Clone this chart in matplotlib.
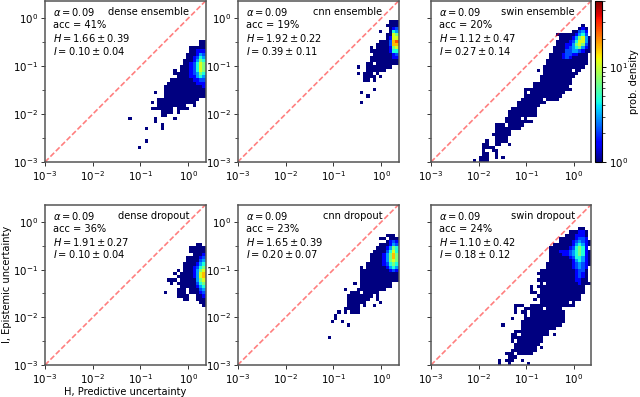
"""Uncertainty scatter density grid: predictive vs epistemic, six models."""

import matplotlib

matplotlib.use("Agg")
import matplotlib.pyplot as plt
import numpy as np
from matplotlib.colors import LogNorm

# Histogram: {row: (first column, level per column)}.
# Rows and columns are indices of the 50 log-spaced bins, "." is an empty bin.
dense_ensemble = {
    37: (48, "11"), 36: (48, "11"), 35: (45, "11111"), 34: (45, "11222"),
    33: (44, "111243"), 32: (44, "112354"), 31: (43, "1112465"), 30: (43, "1123576"),
    29: (42, "11123576"), 28: (40, "1.11123576"), 27: (40, "1111123465"),
    26: (41, "111122454"), 25: (39, "11111112233"), 24: (38, "111111111222"),
    23: (37, "1111111111112"), 22: (37, "1111111111111"), 21: (34, "1..1111111111111"),
    20: (37, "1111111111111"), 19: (35, "1111111111111"), 18: (33, "1.111111111111"),
    17: (35, "111111111..1"), 16: (33, "1111111.1111"), 15: (36, "1111.1"),
    14: (36, "11"), 13: (26, "1.......1.....1"), 12: (34, "1"), 11: (36, "1"),
    10: (31, "1....1"), 6: (31, "1"), 4: (29, "1"),
}
cnn_ensemble = {
    43: (47, "111"), 42: (46, "1111"), 41: (47, "123"), 40: (44, "1..154"),
    39: (46, "1176"), 38: (46, "1277"), 37: (44, "111389"), 36: (43, "1111388"),
    35: (41, "1.1111267"), 34: (41, "111111255"), 33: (42, "11111123"),
    32: (41, "111111122"), 31: (41, "111111111"), 30: (40, "11.1111111"),
    29: (37, "1..11111111"), 28: (40, "111111"), 27: (37, "1.111.1"), 26: (39, "1111.1"),
    25: (39, "11.1"), 22: (42, "1"), 21: (38, "1"), 20: (40, "1"), 18: (38, "1"),
}
swin_ensemble = {
    42: (47, "1"), 41: (46, "121"), 40: (44, "11342"), 39: (39, "1111112453"),
    38: (40, "1111246741"), 37: (39, "11112357741"), 36: (39, "11122467631"),
    35: (38, "111123456421"), 34: (38, "111133443211"), 33: (37, "111123322111"),
    32: (37, "111123211111"), 31: (36, "1111111111111"), 30: (36, "1111111111111"),
    29: (35, "1111111111111"), 28: (33, "1.111111111.11"), 27: (35, "11111111111"),
    26: (34, "11111111111"), 25: (34, "1111111111"), 24: (32, "111111111111"),
    23: (32, "11111111111"), 22: (29, "111111111111111"), 21: (29, "1.11111111111"),
    20: (29, "111111111111"), 19: (28, "1111111.1111"), 18: (27, "111111111"),
    17: (27, "1111111"), 16: (25, "11111111"), 15: (24, "111111111"),
    14: (24, "111111111"), 13: (23, "11111.1"), 12: (23, "111111111"),
    11: (20, "111.11111"), 10: (20, "11111111"), 9: (20, "11111"), 8: (19, "111111"),
    7: (20, "1111"), 6: (17, "1..1111"), 5: (16, "11..11..1"), 4: (16, "1111"),
    3: (16, "1..11"), 2: (16, "11..1"), 1: (15, "111..1.1"), 0: (13, "1.111"),
}
dense_dropout = {
    37: (47, "11"), 36: (45, "11111"), 35: (45, "11111"), 34: (46, "1112"),
    33: (44, "111123"), 32: (44, "111134"), 31: (43, "1111245"), 30: (43, "1112356"),
    29: (41, "1.1112467"), 28: (40, "1.11112478"), 27: (41, "111112478"),
    26: (38, "111.11111467"), 25: (39, "1.111111356"), 24: (42, "11111245"),
    23: (41, "111.11134"), 22: (37, "1...111.11123"), 21: (41, "1111..112"),
    20: (43, "11..111"), 19: (48, "11"), 18: (49, "1"),
}
cnn_dropout = {
    40: (46, "111"), 39: (44, "11.111"), 38: (46, "1232"), 37: (44, "111243"),
    36: (43, "1112465"), 35: (42, "11113575"), 34: (41, "111124686"),
    33: (41, "111124686"), 32: (41, "111124676"), 31: (40, "1111123565"),
    30: (38, "1.1111112454"), 29: (38, "111111111232"), 28: (38, "111111111111"),
    27: (38, "111111111111"), 26: (38, "111111111111"), 25: (36, "1.1111111111"),
    24: (38, "1111111111"), 23: (33, "1...111111111"), 22: (35, "111.11111"),
    21: (34, "11111111.1"), 20: (34, "1111111..1"), 19: (34, "111111....1"),
    18: (34, "1111.1..1"), 17: (33, "11111"), 16: (31, "1.1.111"), 15: (30, "1"),
    14: (30, "1"), 13: (29, "1..1"), 12: (34, "1"), 8: (28, "1"),
}
swin_dropout = {
    42: (46, "11"), 41: (43, "111221"), 40: (42, "1112221"), 39: (40, "111112332"),
    38: (40, "1111234321"), 37: (38, "111111245421"), 36: (37, "111111235652"),
    35: (37, "1112223456521"), 34: (37, "1111223456521"), 33: (37, "1111112355421"),
    32: (37, "1111111245421"), 31: (36, "11111111234321"), 30: (36, "1111111123432"),
    29: (34, "111111111112331"), 28: (33, "1111111111112321"), 27: (34, "111111111112321"),
    26: (33, "1111111111112211"), 25: (34, "1.11111111112111"), 24: (31, "1.111111111111111"),
    23: (31, "1..11111111111111"), 22: (31, "11.11111111111111"), 21: (33, "11111111111111"),
    20: (32, "1.1111111111111"), 19: (34, "111111111.1"), 18: (26, "111..11111111111111"),
    17: (26, "1..111111.11111"), 16: (26, "1.11.11111111111"), 15: (29, "1.11111111111"),
    14: (25, "1...1111111111111"), 13: (28, "11111111111111"), 12: (22, "1.....1111111111111"),
    11: (27, ".11111111111"), 10: (26, "11111111111"), 9: (25, "11.111111111.1"),
    8: (25, "1111111111"), 7: (25, "1.11111111"), 6: (25, ".11111111"),
    5: (26, "1111111.1"), 4: (25, "11111111"), 3: (23, "111.11111"), 2: (24, "111"),
    1: (21, "1.111..1"), 0: (21, "1..1.....1"),
}

panel_grids = [dense_ensemble, cnn_ensemble, swin_ensemble, dense_dropout, cnn_dropout, swin_dropout]
panel_names = ["dense ensemble", "cnn ensemble", "swin ensemble", "dense dropout", "cnn dropout", "swin dropout"]
acc = [41, 19, 20, 36, 23, 24]
H_mean = [1.66, 1.92, 1.12, 1.91, 1.65, 1.10]
H_std = [0.39, 0.22, 0.47, 0.27, 0.39, 0.42]
I_mean = [0.10, 0.39, 0.27, 0.10, 0.20, 0.18]
I_std = [0.04, 0.11, 0.14, 0.04, 0.07, 0.12]
alpha = 0.09

# density meant by each level digit
level_density = {"1": 1.0, "2": 1.6, "3": 2.2, "4": 3.0, "5": 4.5, "6": 7.0, "7": 11.0, "8": 16.0, "9": 25.0}

UMIN, UMAX = 1e-3, 2.3
NBINS = 50
FIG_W, FIG_H = 640, 397
FS = 7.1

# left, top, right, bottom in pixels
boxes = [
    (45, 1, 205.5, 162), (237.7, 1, 398.5, 162), (431, 1, 591, 162),
    (45, 204.7, 205.5, 365), (237.7, 204.7, 398.5, 365), (431, 204.7, 591, 365),
]


def to_array(cells):
    z = np.full((NBINS, NBINS), np.nan)
    for row, (first, levels) in cells.items():
        for i, ch in enumerate(levels):
            if ch in level_density:
                z[row, first + i] = level_density[ch]
    return z


def add_axes_px(fig, left, top, right, bottom):
    return fig.add_axes([left / FIG_W, 1 - bottom / FIG_H, (right - left) / FIG_W, (bottom - top) / FIG_H])


fig = plt.figure(figsize=(FIG_W / 100, FIG_H / 100), dpi=100)
edges = np.logspace(np.log10(UMIN), np.log10(UMAX), NBINS + 1)
norm = LogNorm(vmin=1, vmax=50)

for i, box in enumerate(boxes):
    ax = add_axes_px(fig, *box)
    mesh = ax.pcolormesh(edges, edges, to_array(panel_grids[i]), cmap="jet", norm=norm, antialiased=True, linewidth=0)
    ax.plot([UMIN, UMAX], [UMIN, UMAX], "--", color="red", alpha=0.5, lw=1.2, dashes=(3.2, 1.4))
    ax.set_xscale("log")
    ax.set_yscale("log")
    ax.set_xlim(UMIN, UMAX)
    ax.set_ylim(UMIN, UMAX)
    ax.set_xticks([1e-3, 1e-2, 1e-1, 1e0])
    ax.set_yticks([1e-3, 1e-2, 1e-1, 1e0])
    ax.set_yticks([10**-2.5, 10**-1.5, 10**-0.5], minor=True)
    ax.set_xticks([], minor=True)
    ax.tick_params(axis="both", which="major", labelsize=FS + 0.3, length=3, width=0.7, pad=2, color="#333333")
    ax.tick_params(axis="y", which="minor", length=2, width=0.6, labelleft=False, color="#333333")
    if i in (2, 5):
        ax.tick_params(axis="y", which="major", labelleft=False)
    for spine in ax.spines.values():
        spine.set_linewidth(1.1)
        spine.set_color("#555555")

    ax.text(0.05, 0.93, rf"$\alpha = {alpha:.2f}$", transform=ax.transAxes, fontsize=FS, va="center")
    ax.text(0.05, 0.85, f"acc = {acc[i]}%", transform=ax.transAxes, fontsize=FS, va="center")
    ax.text(0.05, 0.77, rf"$H = {H_mean[i]:.2f} \pm {H_std[i]:.2f}$", transform=ax.transAxes, fontsize=FS, va="center")
    ax.text(0.05, 0.69, rf"$I = {I_mean[i]:.2f} \pm {I_std[i]:.2f}$", transform=ax.transAxes, fontsize=FS, va="center")
    ax.text(0.90, 0.93, panel_names[i], transform=ax.transAxes, fontsize=FS, ha="right", va="center")

    if i == 3:
        ax.set_xlabel("H, Predictive uncertainty", fontsize=FS, labelpad=1)
        ax.set_ylabel("I, Epistemic uncertainty", fontsize=FS, labelpad=0.5)

cax = add_axes_px(fig, 594.7, 1, 601.7, 162)
cbar = fig.colorbar(mesh, cax=cax)
cbar.set_label("prob. density", fontsize=FS, labelpad=1)
cbar.ax.tick_params(which="major", labelsize=FS + 0.3, length=3, width=0.7, pad=2)
cbar.ax.tick_params(which="minor", length=2, width=0.5)
cbar.outline.set_linewidth(0.8)

fig.savefig("out.png", dpi=100)
